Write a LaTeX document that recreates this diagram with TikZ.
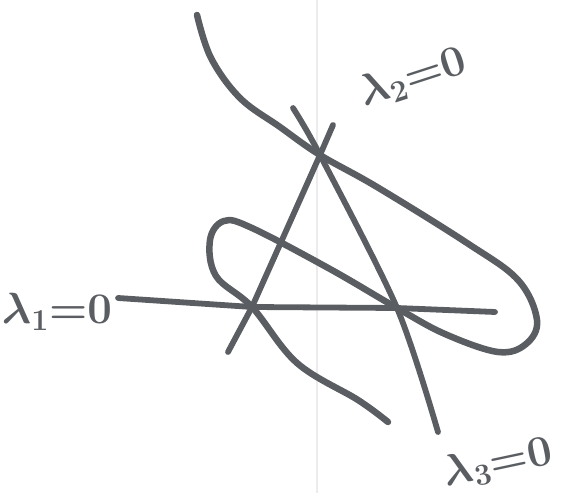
\documentclass[tikz,border=0pt]{standalone}
\usepackage{amsmath}
\usepackage{tikz}
\usetikzlibrary{positioning}
\definecolor{ink}{HTML}{5A5D61}
\definecolor{fold}{HTML}{ECECEF}

\begin{document}
\begin{tikzpicture}[
    x=0.02cm, y=-0.02cm,
    pen/.style={draw=ink, line width=3.7pt, line cap=round, line join=round},
    lambdaline/.style={pen, line width=3.3pt},
    lambdatag/.style={text=ink, inner sep=0pt, font=\fontsize{25}{30}\selectfont\boldmath}
]
\useasboundingbox (0,0) rectangle (565,493);
\draw[fold, line width=0.6pt] (317,0) -- (317,493);

% vertices of the triangle
\coordinate (A) at (252,307);
\coordinate (B) at (397,308);
\coordinate (C) at (320,155);

% free ends of the three lines
\coordinate (l1w) at (118,298);
\coordinate (l1e) at (495,312);
\coordinate (l2n) at (333,125);
\coordinate (l2s) at (228,352);
\coordinate (l3n) at (293,108);
\coordinate (l3s) at (438,432);

% lines
\draw[lambdaline] (l1w) -- (A) -- (B) -- (l1e);
\draw[lambdaline] (l2n) -- (C) -- (A) -- (l2s);
\draw[lambdaline] plot[smooth, tension=0.5] coordinates {(l3n) (C) (B) (l3s)};

% the cubic
\draw[pen] plot[smooth, tension=0.6] coordinates {
    (197,15) (211,58) (240,98) (280,127) (C) (377,187) (467,243)
    (518,280) (537,320) (526,344) (498,352) (445,334) (B)
    (330,269) (252,228) (224,221) (210,240) (216,276) (A)
    (297,363) (358,400) (388,422)};

% labels
\node[lambdatag] (t1) at (57,312) {$\lambda_1{=}0$};
\node[lambdatag, rotate=18] (t2) at (413,78) {$\lambda_2{=}0$};
\node[lambdatag, rotate=12] (t3) at (498,463) {$\lambda_3{=}0$};
\end{tikzpicture}
\end{document}
